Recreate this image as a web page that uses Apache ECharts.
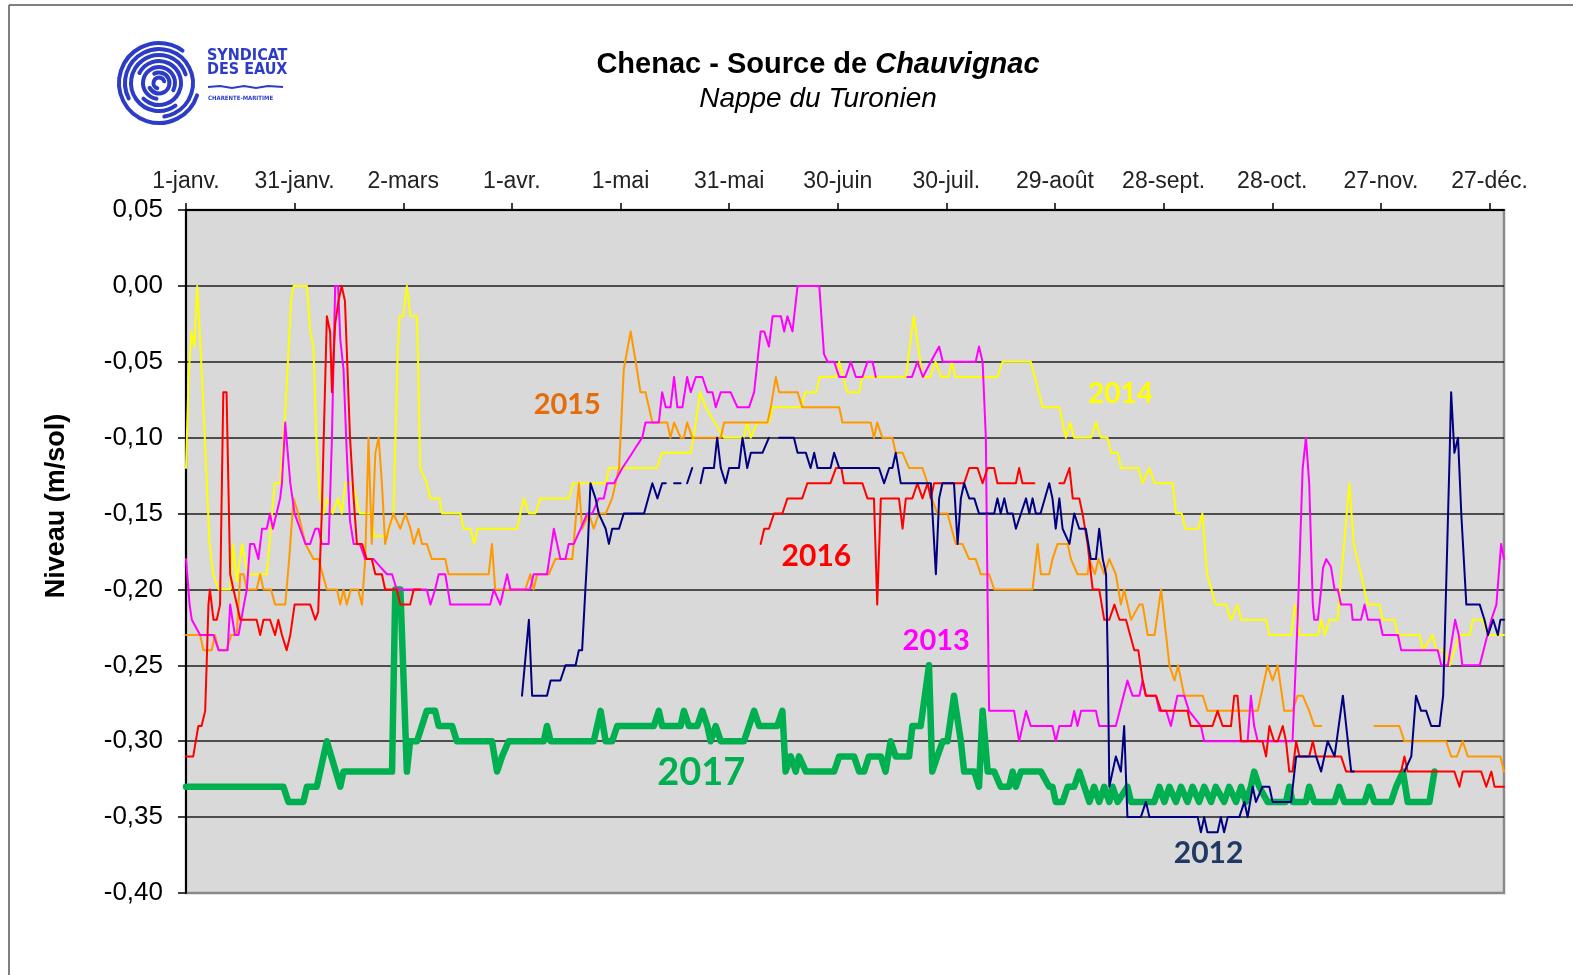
<!DOCTYPE html>
<html><head><meta charset="utf-8">
<script src="https://cdn.jsdelivr.net/npm/echarts@6/dist/echarts.min.js"></script>
<style>html,body{margin:0;padding:0;background:#fff}#c{width:1573px;height:975px}</style>
</head><body><div id="c"></div>
<script>
// ---- tick labels (x axis: day of year, one tick every 30 days) ----
const monthTicks = ['1-janv.','31-janv.','2-mars','1-avr.','1-mai','31-mai','30-juin','30-juil.','29-août','28-sept.','28-oct.','27-nov.','27-déc.'];
const years = ['2012','2013','2014','2015','2016','2017'];

// ---- series: [day of year, niveau (m/sol)] ; '-' = gap ----
const s2014 = [[0,-0.12],[0.7,-0.06],[1.5,-0.03],[2.3,-0.04],[3.1,0.0],[4,-0.04],[5,-0.09],[6.5,-0.17],[7.5,-0.19],[9,-0.20],[12.2,-0.20],[13,-0.17],[14,-0.195],[15.5,-0.17],[17,-0.19],[22.3,-0.19],[24.5,-0.13],[26,-0.13],[27.5,-0.08],[29,-0.01],[29.7,0],[33.4,0],[34.3,-0.03],[35.2,-0.04],[36,-0.10],[37,-0.14],[38,-0.15],[39,-0.14],[40.5,-0.15],[42,-0.14],[43,-0.15],[44,-0.13],[46,-0.13],[48,-0.15],[51,-0.15],[52,-0.165],[55.5,-0.165],[57.3,-0.15],[58.5,-0.04],[59,-0.02],[60,-0.02],[61,0],[62,-0.02],[63.8,-0.02],[64.7,-0.12],[66.5,-0.13],[67.5,-0.14],[70,-0.14],[70.7,-0.15],[75.8,-0.15],[76.7,-0.16],[78.5,-0.16],[79.6,-0.17],[80.5,-0.16],[91.4,-0.16],[93.3,-0.14],[94.7,-0.15],[96.5,-0.15],[97.9,-0.14],[105.7,-0.14],[107,-0.13],[115.9,-0.13],[116.8,-0.12],[130,-0.12],[131.5,-0.11],[139.4,-0.11],[140.8,-0.09],[142,-0.07],[143.5,-0.08],[146,-0.09],[148.6,-0.10],[154,-0.10],[155,-0.09],[156,-0.10],[157.8,-0.09],[161,-0.09],[162,-0.08],[170,-0.08],[171,-0.07],[174,-0.07],[175,-0.06],[179.5,-0.06],[180.4,-0.05],[181.5,-0.06],[182.6,-0.07],[185.9,-0.07],[186.8,-0.06],[198.8,-0.06],[201,-0.02],[203.4,-0.06],[205.5,-0.06],[207,-0.05],[208.5,-0.06],[210.5,-0.06],[211.5,-0.05],[212.5,-0.06],[224.1,-0.06],[225.5,-0.05],[233.3,-0.05],[236.6,-0.08],[241.2,-0.08],[243,-0.10],[244.2,-0.09],[245.3,-0.10],[250,-0.10],[251.3,-0.09],[252.7,-0.10],[254.5,-0.10],[255.5,-0.11],[257.3,-0.11],[258.2,-0.12],[263,-0.12],[264.2,-0.13],[266,-0.12],[267.5,-0.13],[272.5,-0.13],[273.4,-0.15],[275,-0.15],[276,-0.16],[279.5,-0.16],[280.7,-0.15],[282,-0.19],[284.4,-0.21],[287.2,-0.21],[288.6,-0.22],[290.4,-0.21],[291.4,-0.22],[298.3,-0.22],[299.2,-0.23],[305.2,-0.23],[306.3,-0.21],[307.5,-0.23],[312.6,-0.23],[313.5,-0.22],[314.5,-0.23],[315.8,-0.22],[318,-0.22],[321.3,-0.13],[322.5,-0.17],[324.5,-0.19],[326.4,-0.21],[329.6,-0.21],[330.5,-0.22],[333.8,-0.22],[334.7,-0.23],[340.7,-0.23],[341.6,-0.24],[344.3,-0.23],[345.3,-0.24],[347.6,-0.24],[349,-0.25],[350.3,-0.24],[351.7,-0.23],[354.5,-0.23],[355.4,-0.22],[358,-0.22],[359.6,-0.23],[364,-0.23]];

const s2013 = [[0,-0.18],[1,-0.21],[1.6,-0.22],[3.9,-0.23],[7.6,-0.23],[9,-0.24],[11.5,-0.24],[12.2,-0.21],[13.5,-0.23],[14.5,-0.23],[16,-0.21],[16.8,-0.20],[17.7,-0.17],[18.8,-0.17],[20,-0.18],[21,-0.16],[22.3,-0.16],[23.2,-0.15],[24,-0.16],[25,-0.15],[26,-0.14],[26.5,-0.13],[27.4,-0.09],[28.8,-0.13],[30,-0.15],[31.5,-0.16],[33,-0.17],[34.3,-0.17],[35.7,-0.16],[36.6,-0.16],[37.5,-0.17],[39.4,-0.17],[40.3,-0.10],[41.2,0],[42,0],[42.6,-0.035],[43.5,-0.055],[44.4,-0.11],[45.3,-0.155],[46.3,-0.17],[48,-0.17],[49.5,-0.18],[51.8,-0.18],[53.6,-0.185],[55.5,-0.19],[56.9,-0.19],[58.2,-0.20],[66.5,-0.20],[67.5,-0.21],[68.8,-0.20],[69.8,-0.19],[71.6,-0.19],[73,-0.21],[84,-0.21],[85,-0.20],[86.8,-0.21],[88.7,-0.19],[89.6,-0.20],[95,-0.20],[96,-0.19],[99.7,-0.19],[101.6,-0.16],[103.4,-0.18],[104.8,-0.18],[105.7,-0.17],[107.1,-0.17],[109,-0.16],[110.8,-0.15],[112.2,-0.15],[114,-0.14],[115.4,-0.14],[116.3,-0.13],[118.2,-0.13],[120.5,-0.12],[121.9,-0.115],[124.6,-0.105],[126,-0.10],[126.9,-0.09],[130.6,-0.09],[131.5,-0.07],[132.5,-0.08],[133.8,-0.08],[134.8,-0.06],[135.7,-0.08],[137.1,-0.08],[138.4,-0.06],[139.4,-0.07],[140.8,-0.06],[142.6,-0.06],[144,-0.07],[145.4,-0.07],[146.3,-0.08],[147.7,-0.07],[150.4,-0.07],[152.3,-0.08],[155.5,-0.08],[156.9,-0.07],[157.8,-0.05],[158.7,-0.03],[159.7,-0.03],[161,-0.04],[162,-0.02],[164.3,-0.02],[165.2,-0.03],[166.1,-0.02],[167.5,-0.03],[168.9,0],[174.9,0],[176.2,-0.045],[177.2,-0.05],[179,-0.05],[180.4,-0.06],[182.2,-0.06],[183.6,-0.05],[185,-0.06],[186.8,-0.06],[188.2,-0.05],[189.6,-0.05],[190.5,-0.06],[195,'-'],[199.2,-0.06],[200.5,-0.06],[202,-0.05],[203.5,-0.06],[205.7,-0.05],[208,-0.04],[209,-0.05],[218.1,-0.05],[219,-0.04],[220,-0.05],[220.9,-0.10],[221.4,-0.21],[221.8,-0.28],[228.7,-0.28],[230.1,-0.30],[232,-0.28],[233.3,-0.29],[239.3,-0.29],[240.2,-0.30],[241.2,-0.29],[244.4,-0.29],[245.3,-0.28],[246.2,-0.29],[247.2,-0.28],[251.3,-0.28],[252.2,-0.29],[256.8,-0.29],[260,-0.26],[261.4,-0.27],[263.3,-0.27],[264.2,-0.26],[265.1,-0.27],[267.9,-0.27],[268.8,-0.28],[270.7,-0.28],[272,-0.29],[273.8,-0.27],[275.7,-0.27],[277,-0.28],[280.3,-0.29],[281.2,-0.30],[293.2,-0.30],[294.1,-0.27],[295,-0.29],[296,-0.30],[305.6,-0.30],[307,-0.22],[308.4,-0.12],[309.3,-0.10],[310.2,-0.13],[311.2,-0.21],[311.6,-0.22],[312.6,-0.22],[313.5,-0.20],[314,-0.186],[314.9,-0.18],[316.2,-0.185],[317.2,-0.20],[318.1,-0.20],[319,-0.21],[321.8,-0.21],[322.2,-0.22],[324.5,-0.22],[325.5,-0.21],[326.4,-0.22],[329.6,-0.22],[330.5,-0.23],[334.7,-0.23],[335.6,-0.24],[345.7,-0.24],[346.7,-0.25],[348.5,-0.25],[350.5,-0.22],[351.5,-0.23],[352.5,-0.25],[357.3,-0.25],[360.5,-0.22],[361.9,-0.21],[363.2,-0.17],[364,-0.18]];

const s2015 = [[0,-0.23],[3.9,-0.23],[4.8,-0.24],[7.1,-0.24],[8,-0.23],[9,-0.24],[11.2,-0.24],[12.5,-0.23],[14,-0.23],[15,-0.19],[15.9,-0.19],[16.8,-0.20],[19.5,-0.20],[20.5,-0.19],[21.4,-0.20],[23.5,-0.20],[24.6,-0.21],[27.4,-0.21],[28.5,-0.18],[29.7,-0.14],[31,-0.15],[33,-0.17],[35.2,-0.18],[36.6,-0.18],[38.9,-0.20],[41.7,-0.20],[42.6,-0.21],[43.5,-0.20],[44.4,-0.21],[45.5,-0.20],[47.5,-0.20],[48.6,-0.21],[49.5,-0.18],[50.4,-0.10],[51.3,-0.17],[52.3,-0.11],[53.2,-0.10],[54.1,-0.13],[55,-0.17],[56,-0.16],[57.3,-0.15],[59.2,-0.16],[60.6,-0.15],[62,-0.16],[62.9,-0.17],[64.2,-0.16],[65.2,-0.17],[66.5,-0.17],[67.9,-0.18],[71.6,-0.18],[72.5,-0.19],[83.6,-0.19],[84.5,-0.17],[85.4,-0.20],[93.7,-0.20],[95.1,-0.19],[96,-0.20],[97,-0.19],[100.2,-0.19],[102,-0.18],[106.7,-0.18],[108.5,-0.13],[109.4,-0.16],[111.3,-0.15],[112.6,-0.16],[114,-0.15],[115.9,-0.15],[117.7,-0.14],[119.6,-0.12],[120.9,-0.055],[122.8,-0.03],[124.2,-0.05],[125.5,-0.07],[126.9,-0.07],[128.8,-0.09],[132.9,-0.09],[133.8,-0.10],[134.8,-0.09],[136.6,-0.10],[137.5,-0.10],[138.4,-0.09],[139.8,-0.10],[147.7,-0.10],[148.6,-0.09],[160.6,-0.09],[161.5,-0.08],[162.9,-0.06],[163.8,-0.07],[168.9,-0.07],[170.2,-0.08],[180.4,-0.08],[181.3,-0.09],[189.1,-0.09],[190,-0.10],[190.9,-0.09],[192.3,-0.10],[195.1,-0.10],[196,-0.11],[197.9,-0.11],[199.7,-0.12],[203.4,-0.12],[204.8,-0.13],[206,-0.14],[207.5,-0.15],[210.3,-0.15],[212.6,-0.17],[214.4,-0.17],[216.3,-0.18],[218.1,-0.18],[219.5,-0.19],[221.8,-0.19],[223.2,-0.20],[233.8,-0.20],[235.2,-0.17],[236.1,-0.19],[238.4,-0.19],[239.3,-0.18],[240.7,-0.17],[243.5,-0.17],[244.4,-0.18],[246.2,-0.19],[249,-0.19],[249.5,-0.18],[251,-0.19],[252,-0.18],[253.6,-0.19],[255,-0.18],[256.8,-0.19],[258.2,-0.21],[259.1,-0.20],[261,-0.22],[263.3,-0.21],[264.2,-0.21],[265.6,-0.23],[267.5,-0.23],[269.3,-0.20],[270.2,-0.22],[271.6,-0.25],[273,-0.26],[274,-0.25],[275.7,-0.27],[280.8,-0.27],[282.1,-0.28],[296,-0.28],[298.7,-0.25],[300.1,-0.26],[301.5,-0.25],[303.3,-0.28],[305.6,-0.28],[307,-0.27],[308.4,-0.27],[310.2,-0.28],[311.6,-0.29],[313.5,-0.29],[320,'-'],[328.2,-0.29],[335.1,-0.29],[336.5,-0.30],[348,-0.30],[349.4,-0.31],[351,-0.31],[352.6,-0.30],[354,-0.31],[363,-0.31],[364,-0.32]];

const s2016 = [[0,-0.31],[2,-0.31],[3.4,-0.29],[4.3,-0.29],[5.3,-0.28],[5.7,-0.25],[6.2,-0.21],[6.6,-0.20],[7.6,-0.22],[8.5,-0.22],[9.4,-0.21],[10.3,-0.07],[11.2,-0.07],[12.2,-0.19],[13.1,-0.20],[15,-0.22],[19.5,-0.22],[20.5,-0.23],[21.4,-0.22],[23.2,-0.22],[24.6,-0.23],[25.5,-0.22],[26.5,-0.23],[27.8,-0.24],[28.8,-0.23],[30,-0.21],[34.3,-0.21],[35.7,-0.22],[36.5,-0.215],[37.5,-0.15],[38.9,-0.02],[39.8,-0.03],[40.3,-0.07],[41.2,-0.025],[42.1,-0.01],[43,0],[43.9,-0.01],[45.3,-0.10],[46.3,-0.14],[47.2,-0.17],[48.6,-0.17],[49.9,-0.18],[51.3,-0.18],[52.3,-0.19],[54.1,-0.19],[55,-0.20],[58.2,-0.20],[59.2,-0.21],[61.9,-0.21],[62.9,-0.20],[64.7,-0.20],[100,'-'],[158.7,-0.17],[159.7,-0.16],[161,-0.16],[162.4,-0.15],[164.7,-0.15],[166.1,-0.14],[170.2,-0.14],[171.6,-0.13],[178,-0.13],[179.5,-0.12],[181,-0.12],[181.7,-0.13],[186.8,-0.13],[188.2,-0.14],[190,-0.14],[190.9,-0.21],[191.9,-0.14],[196.9,-0.14],[197.9,-0.16],[198.8,-0.14],[200.6,-0.14],[202,-0.13],[203.4,-0.14],[204.8,-0.13],[205.7,-0.14],[206.6,-0.13],[214.9,-0.13],[216.3,-0.12],[218.6,-0.12],[220,-0.13],[221.4,-0.12],[223.2,-0.12],[224.1,-0.13],[229.2,-0.13],[230.1,-0.12],[231,-0.13],[234.3,-0.13],[238,'-'],[241.2,-0.13],[242.5,-0.13],[244,-0.12],[244.9,-0.14],[246.7,-0.14],[247.6,-0.15],[249,-0.17],[250.4,-0.20],[252.2,-0.20],[253.6,-0.22],[255,-0.22],[256.4,-0.21],[257.8,-0.22],[259.6,-0.22],[261.9,-0.24],[263,-0.24],[264.2,-0.26],[265.1,-0.27],[267.9,-0.27],[269.3,-0.28],[276.6,-0.28],[277.5,-0.29],[283.5,-0.29],[284.9,-0.28],[286.3,-0.29],[288.6,-0.29],[289.5,-0.27],[290.4,-0.27],[291.4,-0.30],[297.3,-0.30],[298.3,-0.31],[299.2,-0.29],[300.5,-0.30],[301.5,-0.30],[302.9,-0.29],[303.8,-0.30],[304.7,-0.32],[305.6,-0.32],[306.6,-0.30],[307.5,-0.31],[310.2,-0.31],[311.2,-0.30],[312.1,-0.31],[319,-0.31],[320.4,-0.32],[335.6,-0.32],[336.5,-0.31],[337.4,-0.32],[350.3,-0.32],[351.7,-0.33],[352.6,-0.32],[357.7,-0.32],[359.1,-0.33],[360.5,-0.32],[361.4,-0.33],[364,-0.33]];

const s2012 = [[92.8,-0.27],[94.7,-0.22],[95.6,-0.27],[99.7,-0.27],[100.7,-0.26],[103.4,-0.26],[104.8,-0.25],[107.6,-0.25],[108.5,-0.24],[109.4,-0.24],[110.3,-0.20],[111,-0.17],[111.7,-0.13],[113.1,-0.14],[114,-0.15],[115.9,-0.16],[116.8,-0.17],[117.7,-0.16],[119.6,-0.16],[120.9,-0.15],[126.5,-0.15],[128.8,-0.13],[130.2,-0.14],[131.5,-0.13],[132.5,-0.13],[133.5,'-'],[134.8,-0.13],[136.6,-0.13],[137.5,'-'],[138.4,-0.13],[139.8,-0.12],[141,'-'],[142.1,-0.13],[143,-0.12],[145.8,-0.12],[146.7,-0.10],[147.7,-0.12],[149,-0.13],[150,-0.12],[152.7,-0.12],[153.7,-0.10],[155,-0.12],[156,-0.11],[159.2,-0.11],[161,-0.10],[162.4,'-'],[163.8,-0.10],[167.9,-0.10],[168.9,-0.11],[171.2,-0.11],[172.5,-0.12],[173.5,-0.11],[174.4,-0.12],[178,-0.12],[179,-0.11],[180.4,-0.12],[191.4,-0.12],[192.8,-0.13],[194.2,-0.12],[195.1,-0.12],[196,-0.11],[197.4,-0.13],[205.7,-0.13],[207.1,-0.19],[208,-0.14],[208.9,-0.13],[212.1,-0.13],[213.1,-0.17],[214,-0.14],[214.9,-0.13],[216.3,-0.14],[217.7,-0.14],[219,-0.15],[223.2,-0.15],[224.1,-0.14],[225,-0.15],[226,-0.14],[226.9,-0.15],[228.3,-0.15],[229.2,-0.16],[230.6,-0.15],[232,-0.14],[232.9,-0.15],[233.8,-0.14],[234.7,-0.15],[236,-0.15],[238.4,-0.13],[239.3,-0.14],[240.2,-0.16],[241.2,-0.14],[242.1,-0.16],[244,-0.17],[245.3,-0.15],[246.7,-0.16],[248.5,-0.16],[249.9,-0.18],[251.3,-0.18],[252.2,-0.16],[253.2,-0.18],[254.1,-0.19],[254.6,-0.25],[255,-0.33],[256.8,-0.31],[258.2,-0.32],[259.1,-0.29],[260,-0.35],[263.7,-0.35],[265.1,-0.34],[266.1,-0.35],[279.4,-0.35],[280.3,-0.36],[281.2,-0.35],[282.1,-0.36],[284.9,-0.36],[285.8,-0.35],[286.7,-0.36],[287.7,-0.35],[290.9,-0.35],[292.3,-0.34],[293.2,-0.35],[294.6,-0.33],[295.5,-0.34],[297.3,-0.33],[299.2,-0.33],[300.1,-0.34],[305.2,-0.34],[306.6,-0.31],[312.1,-0.31],[313.5,-0.32],[315.3,-0.30],[317.2,-0.31],[319.5,-0.27],[321.8,-0.32],[322.5,-0.32],[330,'-'],[336.5,-0.32],[338.4,-0.31],[339.7,-0.27],[341.1,-0.28],[342.5,-0.28],[343.9,-0.29],[346.2,-0.29],[347.2,-0.27],[348,-0.20],[349,-0.11],[349.4,-0.07],[350.3,-0.11],[351.3,-0.10],[352.2,-0.15],[353.6,-0.21],[357.3,-0.21],[358.6,-0.22],[359.6,-0.23],[361,-0.22],[362.3,-0.23],[363,-0.22],[364,-0.22]];

const s2017 = [[0,-0.33],[26.9,-0.33],[28.3,-0.34],[32.4,-0.34],[33.4,-0.33],[36.1,-0.33],[38.9,-0.30],[42.6,-0.33],[43.5,-0.32],[56.9,-0.32],[57.8,-0.20],[59.2,-0.20],[61,-0.32],[61.9,-0.30],[63.8,-0.30],[66.5,-0.28],[68.8,-0.28],[69.8,-0.29],[73.5,-0.29],[74.8,-0.30],[84.5,-0.30],[85.9,-0.32],[87.3,-0.31],[89.1,-0.30],[98.8,-0.30],[99.7,-0.29],[100.7,-0.30],[112.6,-0.30],[114.5,-0.28],[115.9,-0.30],[117.7,-0.30],[119.1,-0.29],[129.2,-0.29],[130.6,-0.28],[131.5,-0.29],[136.6,-0.29],[137.5,-0.28],[138.9,-0.29],[141.2,-0.29],[142.6,-0.28],[144,-0.29],[144.9,-0.30],[146.3,-0.29],[147.7,-0.30],[154.1,-0.30],[155.5,-0.29],[156.9,-0.28],[158.3,-0.29],[163.3,-0.29],[164.7,-0.28],[165.6,-0.32],[167,-0.31],[168.4,-0.32],[169.3,-0.31],[171.2,-0.32],[179,-0.32],[180.4,-0.31],[184.5,-0.31],[185.9,-0.32],[187.3,-0.32],[188.6,-0.31],[191.9,-0.31],[193.2,-0.32],[194.6,-0.30],[196,-0.31],[199.7,-0.31],[200.6,-0.29],[202.9,-0.29],[205.2,-0.25],[206.1,-0.32],[207.5,-0.31],[209,-0.30],[210.3,-0.30],[212.1,-0.27],[214,-0.30],[214.9,-0.32],[217.7,-0.32],[219,-0.33],[220,-0.28],[221.4,-0.32],[223.2,-0.32],[225,-0.33],[227.3,-0.33],[228.3,-0.32],[229.2,-0.33],[230.6,-0.32],[236.1,-0.32],[238.4,-0.33],[239.3,-0.33],[240.2,-0.34],[242.1,-0.34],[243.5,-0.33],[245.3,-0.33],[246.7,-0.32],[248.1,-0.33],[249.5,-0.34],[250.8,-0.33],[252.2,-0.34],[253.6,-0.33],[255,-0.34],[255.9,-0.33],[257.3,-0.34],[260,-0.33],[261,-0.34],[267.4,-0.34],[268.8,-0.33],[270.2,-0.34],[271.6,-0.33],[273.4,-0.34],[274.8,-0.33],[276.6,-0.34],[278,-0.33],[279.8,-0.34],[281.2,-0.33],[283.1,-0.34],[284.4,-0.33],[286.7,-0.34],[288.1,-0.33],[290,-0.34],[291.4,-0.33],[292.7,-0.34],[294.1,-0.33],[295,-0.32],[296.4,-0.33],[298.7,-0.34],[303.8,-0.34],[304.7,-0.33],[305.6,-0.34],[309.3,-0.34],[310.2,-0.33],[311.6,-0.34],[317.2,-0.34],[318.5,-0.33],[319.9,-0.34],[325.5,-0.34],[326.8,-0.33],[328.2,-0.34],[332.8,-0.34],[334.2,-0.33],[336.1,-0.32],[337.4,-0.34],[343.4,-0.34],[344.8,-0.32]];

// ---- styling / annotation config ----
const seriesStyle = {
  '2017': {color:'#00B050', width:6.5},
  '2014': {color:'#FFFF00', width:2},
  '2015': {color:'#FF9900', width:2},
  '2013': {color:'#FF00FF', width:2},
  '2016': {color:'#FF0000', width:2},
  '2012': {color:'#000080', width:2}
};
const seriesData = {'2012':s2012,'2013':s2013,'2014':s2014,'2015':s2015,'2016':s2016,'2017':s2017};
const drawOrder = ['2017','2014','2015','2013','2016','2012'];
const labelConf = {
  '2015': {at:[105.3,-0.078], color:'#E46C0A', size:29},
  '2016': {at:[174.1,-0.178], color:'#FF0000', size:30},
  '2014': {at:[258.1,-0.071], color:'#FFFF00', size:28},
  '2013': {at:[207.2,-0.234], color:'#FF00FF', size:29},
  '2017': {at:[142.3,-0.321], color:'#00B050', size:38},
  '2012': {at:[282.4,-0.374], color:'#1F3864', size:30}
};

const chart = echarts.init(document.getElementById('c'), null, {renderer:'canvas'});
const tickVals = monthTicks.map((_, i) => i * 30);
const fmtY = v => (Math.abs(v) < 1e-9 ? 0 : v).toFixed(2).replace('.', ',');

const option = {
  animation: false,
  backgroundColor: '#ffffff',
  grid: {left:186, top:210, width:1318, height:683, show:true, backgroundColor:'#D9D9D9', borderColor:'#8a8a8a', borderWidth:2.5},
  xAxis: {
    type:'value', position:'top', min:0, max:364, interval:30,
    axisLine:{show:true, onZero:false, lineStyle:{color:'#000', width:2}},
    axisTick:{show:true, inside:false, length:7, customValues: tickVals, lineStyle:{color:'#000', width:1.5}},
    axisLabel:{show:true, customValues: tickVals, margin:17, fontSize:23, color:'#222', fontFamily:'Liberation Sans',
      formatter: v => monthTicks[Math.round(v/30)] || ''},
    splitLine:{show:false}
  },
  yAxis: {
    type:'value', min:-0.4, max:0.05, interval:0.05,
    axisLine:{show:true, onZero:false, lineStyle:{color:'#000', width:2}},
    axisTick:{show:true, inside:false, length:8, lineStyle:{color:'#000', width:1.5}},
    axisLabel:{fontSize:26, color:'#000', margin:23, fontFamily:'Liberation Sans', formatter: fmtY},
    splitLine:{show:true, showMinLine:false, showMaxLine:false, lineStyle:{color:'#1e1e1e', width:1.6}}
  },
  series: drawOrder.map(y => ({
    name: y, type:'line', data: seriesData[y], showSymbol:false, symbol:'none',
    connectNulls:false, clip:true,
    lineStyle:{color: seriesStyle[y].color, width: seriesStyle[y].width, join:'round', cap:'round'},
    itemStyle:{color: seriesStyle[y].color}
  }))
};
chart.setOption(option);

// ---- graphics: frame, logo, titles, axis name, year labels ----
const logoBlue = '#2C3CC6';
const cx = 159, cy = 83;
const arcs = [[40,0.10,1.70],[34,0.85,2.45],[28,0.30,1.90],[22,1.15,2.75],[16,0.55,2.15],[10.5,1.35,2.85],[5.5,0.6,1.9]];
const g = [];
g.push({type:'line', shape:{x1:9, y1:5, x2:1573, y2:5}, style:{stroke:'#555', lineWidth:1.5}, silent:true});
g.push({type:'line', shape:{x1:9, y1:5, x2:9, y2:975}, style:{stroke:'#555', lineWidth:1.5}, silent:true});
arcs.forEach(a => g.push({type:'arc', shape:{cx, cy, r:a[0], startAngle:a[1]*Math.PI, endAngle:a[2]*Math.PI, clockwise:true},
  style:{stroke:logoBlue, lineWidth:4, fill:null, lineCap:'round'}, silent:true}));
g.push({type:'text', style:{text:'SYNDICAT', x:207, y:56, fill:logoBlue, font:'bold 16px "DejaVu Sans Condensed", "Liberation Sans Narrow", sans-serif', verticalAlign:'middle'}});
g.push({type:'text', style:{text:'DES EAUX', x:207, y:70, fill:logoBlue, font:'bold 16px "DejaVu Sans Condensed", "Liberation Sans Narrow", sans-serif', verticalAlign:'middle'}});
g.push({type:'polyline', shape:{points:[[208,87],[220,86],[232,88],[244,86],[256,88],[268,86],[283,87]]}, style:{stroke:logoBlue, lineWidth:2, fill:null}});
g.push({type:'text', style:{text:'CHARENTE-MARITIME', x:208, y:98, fill:logoBlue, font:'bold 6px "DejaVu Sans Condensed", sans-serif', verticalAlign:'middle'}});
g.push({type:'text', style:{
  text:'{a|Chenac - Source de }{b|Chauvignac}', x:818, y:65, align:'center', verticalAlign:'middle',
  rich:{a:{fontFamily:'Liberation Sans', fontSize:29, fontWeight:'bold', fill:'#000', color:'#000'},
        b:{fontFamily:'Liberation Sans', fontSize:29, fontWeight:'bold', fontStyle:'italic', fill:'#000', color:'#000'}}}});
g.push({type:'text', style:{text:'Nappe du Turonien', x:818, y:99, align:'center', verticalAlign:'middle',
  font:'italic 28px "Liberation Sans", Arial, sans-serif', fill:'#000'}});
g.push({type:'text', x:57, y:506, rotation:Math.PI/2, style:{text:'Niveau (m/sol)', x:0, y:0, align:'center', verticalAlign:'middle',
  font:'bold 27px "Liberation Sans", Arial, sans-serif', fill:'#000'}});
years.forEach(y => {
  const c = labelConf[y];
  const p = chart.convertToPixel({gridIndex:0}, c.at);
  g.push({type:'text', z:100, style:{text:y, x:p[0], y:p[1], align:'center', verticalAlign:'middle',
    font:'bold ' + c.size + 'px Lato, "Open Sans", sans-serif', fill:c.color}});
});
chart.setOption({graphic: g});
</script>
</body></html>
